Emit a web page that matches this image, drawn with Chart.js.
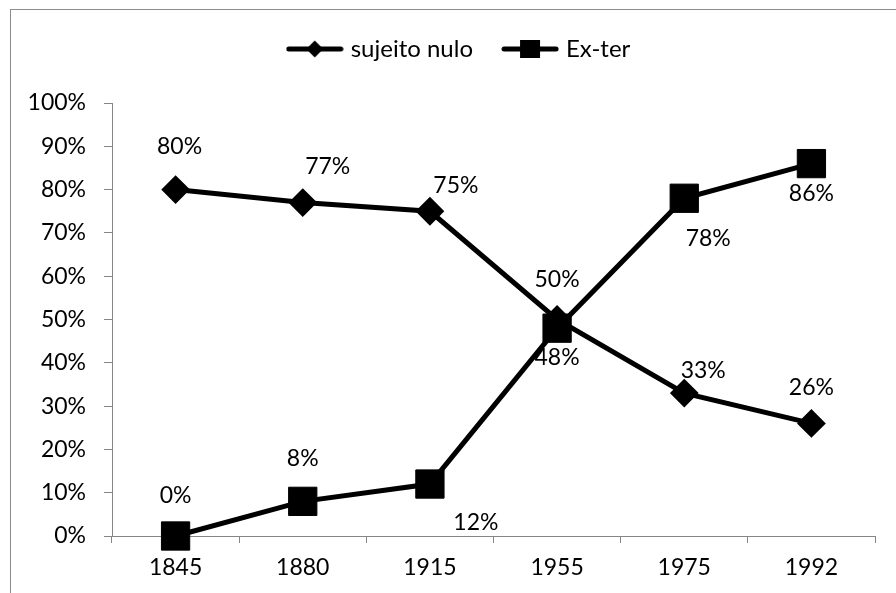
<!DOCTYPE html>
<html lang="pt">
<head>
  <meta charset="UTF-8">
  <title>Sujeito nulo x Ex-ter</title>
  <script src="https://cdn.jsdelivr.net/npm/chart.js"></script>
  <style>
    html, body { margin: 0; padding: 0; background: #fff; overflow: hidden; }
    .frame {
      position: absolute; left: 10px; top: 9px; width: 900px; height: 600px;
      border-left: 1px solid #8c8c8c; border-top: 1px solid #8c8c8c;
    }
    #chart { position: absolute; left: 0; top: 0; }
  </style>
</head>
<body>
  <div class="frame"></div>
  <canvas id="chart" width="896" height="593"></canvas>
  <script>
    // dados
    const anos = ['1845', '1880', '1915', '1955', '1975', '1992'];
    const sujeitoNulo = [80, 77, 75, 50, 33, 26];
    const exTer = [0, 8, 12, 48, 78, 86];
    const yTicks = [0, 10, 20, 30, 40, 50, 60, 70, 80, 90, 100];

    // deslocamento dos rótulos (px) em relação ao ponto
    const offsNulo = [[4, -43], [25, -36], [26, -26], [0, -40], [19, -23], [0, -36]];
    const offsExTer = [[0, -40], [0, -43], [46, 39], [0, 29], [24, 40], [0, 30]];

    const FONT = 'Lato, "Liberation Sans", sans-serif';
    const FSIZE = 23;

    // ícones da legenda: linha com marcador no meio
    const legendIcon = (kind) => {
      const c = document.createElement('canvas');
      c.width = 58; c.height = 22;
      const g = c.getContext('2d');
      g.strokeStyle = '#000'; g.fillStyle = '#000';
      g.lineWidth = 5; g.lineCap = 'round';
      g.beginPath(); g.moveTo(3, 11); g.lineTo(55, 11); g.stroke();
      g.beginPath();
      if (kind === 'diamond') {
        g.moveTo(29, 2.5); g.lineTo(37.5, 11); g.lineTo(29, 19.5); g.lineTo(20.5, 11);
      } else {
        g.rect(19, 2, 20, 18);
      }
      g.closePath(); g.fill();
      return c;
    };
    const iconNulo = legendIcon('diamond');
    const iconExTer = legendIcon('square');

    const rotulos = {
      id: 'rotulos',
      afterDatasetsDraw(chart) {
        const ctx = chart.ctx;
        ctx.save();
        ctx.font = FSIZE + 'px ' + FONT;
        ctx.fillStyle = '#000';
        ctx.textAlign = 'center';
        ctx.textBaseline = 'middle';
        chart.data.datasets.forEach((ds, di) => {
          const meta = chart.getDatasetMeta(di);
          const offs = di === 0 ? offsNulo : offsExTer;
          meta.data.forEach((pt, i) => {
            ctx.fillText(ds.data[i] + '%', pt.x + offs[i][0], pt.y + offs[i][1]);
          });
        });
        ctx.restore();
      }
    };

    // altura fixa da legenda e leve deslocamento para a direita
    const ajusteLegenda = {
      id: 'ajusteLegenda',
      beforeInit(chart) {
        const fit = chart.legend.fit;
        chart.legend.fit = function () {
          fit.call(this);
          this.height = 99;
        };
      },
      afterLayout(chart) {
        chart.legend.left += 15;
        chart.legend.right += 15;
      }
    };

    new Chart(document.getElementById('chart'), {
      type: 'line',
      data: {
        labels: anos,
        datasets: [{
          label: 'sujeito nulo',
          data: sujeitoNulo,
          borderColor: '#000',
          backgroundColor: '#000',
          borderWidth: 5,
          pointStyle: 'rectRot',
          pointRadius: 13,
          pointBorderWidth: 2,
          pointHoverRadius: 13,
          clip: false,
          order: 1
        }, {
          label: 'Ex-ter',
          data: exTer,
          borderColor: '#000',
          backgroundColor: '#000',
          borderWidth: 5,
          pointStyle: 'rect',
          pointRadius: 20,
          pointBorderWidth: 1,
          pointHoverRadius: 20,
          clip: false,
          order: -1
        }]
      },
      options: {
        responsive: false,
        animation: false,
        layout: { padding: { left: 10, right: 15, top: 4, bottom: 0 } },
        plugins: {
          tooltip: { enabled: false },
          legend: {
            position: 'top',
            labels: {
              color: '#000',
              font: { family: FONT, size: 24 },
              usePointStyle: true,
              pointStyleWidth: 48,
              padding: 33,
              generateLabels: () => [
                { text: 'sujeito nulo', pointStyle: iconNulo, fillStyle: '#000', strokeStyle: '#000', lineWidth: 0, datasetIndex: 0, fontColor: '#000' },
                { text: 'Ex-ter', pointStyle: iconExTer, fillStyle: '#000', strokeStyle: '#000', lineWidth: 0, datasetIndex: 1, fontColor: '#000' }
              ]
            }
          }
        },
        scales: {
          x: {
            offset: true,
            grid: { offset: true, drawOnChartArea: false, tickLength: 7, color: '#868686' },
            border: { color: '#868686', width: 1 },
            ticks: { color: '#000', font: { family: FONT, size: FSIZE }, padding: 11, maxRotation: 0 },
            afterFit(scale) { scale.height = 57; }
          },
          y: {
            min: 0,
            max: 100,
            afterBuildTicks(scale) { scale.ticks = yTicks.map(v => ({ value: v })); },
            grid: { drawOnChartArea: false, tickLength: 8, color: '#868686' },
            border: { color: '#868686', width: 1 },
            ticks: {
              color: '#000',
              font: { family: FONT, size: FSIZE },
              padding: 18,
              callback: v => v + '%'
            },
            afterFit(scale) { scale.width = 102; }
          }
        }
      },
      plugins: [ajusteLegenda, rotulos]
    });
  </script>
</body>
</html>
